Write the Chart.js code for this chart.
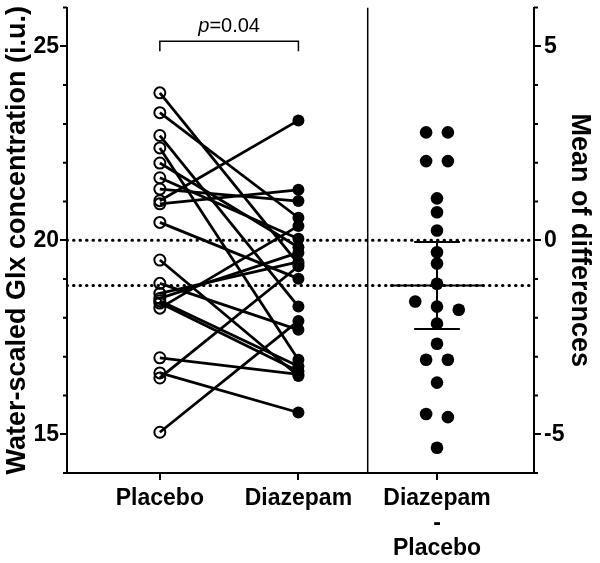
<!DOCTYPE html>
<html>
<head>
<meta charset="utf-8">
<script src="https://cdn.jsdelivr.net/npm/chart.js@4.4.0/dist/chart.umd.min.js"></script>
<style>
  body { margin: 0; background: #fff; }
  #wrap { width: 600px; height: 563px; }
</style>
</head>
<body>
<div id="wrap"><canvas id="glxChart" width="600" height="563"></canvas></div>
<script>
// groups on the x axis
var groupLabels = ['Placebo', 'Diazepam', ['Diazepam', '-', 'Placebo']];
var groupX = [1, 2, 3];

// water-scaled Glx per subject (i.u.), same order in both arrays
var placebo  = [23.80, 23.29, 22.70, 22.38, 21.99, 21.61, 21.32, 21.02, 20.94, 20.46, 19.49,
                18.89, 18.63, 18.50, 18.44, 18.38, 18.25, 16.97, 16.58, 16.45, 15.05];
var diazepam = [19.39, 20.58, 18.29, 16.92, 19.82, 20.04, 21.01, 23.09, 21.30, 19.01, 16.50,
                17.69, 19.44, 19.68, 16.75, 16.62, 20.37, 16.54, 15.56, 19.33, 17.92];

// right panel: diazepam - placebo
var differences = [2.78, 2.78, 2.04, 2.04, 1.08, 0.72, 0.25, -0.31, -0.60, -1.12, -1.58,
                   -1.71, -1.79, -2.15, -2.67, -3.08, -3.08, -3.67, -4.48, -4.56, -5.35];

var leftTicks = [15, 20, 25];
var rightTicks = [-5, 0, 5];
var pValue = '0.04';

var FONT = "'Liberation Sans', Arial, sans-serif";
var xMin = 0.33, xMax = 3.7;

// mean and 95% CI of the differences
var n = differences.length;
var meanDiff = differences.reduce(function (a, b) { return a + b; }, 0) / n;
var sd = Math.sqrt(differences.reduce(function (a, b) { return a + (b - meanDiff) * (b - meanDiff); }, 0) / (n - 1));
var ci = 2.086 * sd / Math.sqrt(n);

// simple swarm: near-equal values share a row and get spread sideways
var swarmStep = 0.157;
var diffPoints = [];
var row = [];
function flushRow() {
    row.forEach(function (v, i) {
        diffPoints.push({ x: groupX[2] + (i - (row.length - 1) / 2) * swarmStep, y: v });
    });
    row = [];
}
differences.slice().sort(function (a, b) { return b - a; }).forEach(function (v) {
    if (row.length && Math.abs(v - row[0]) > 0.25) flushRow();
    row.push(v);
});
flushRow();

function seg(data, axis, width, dash) {
    return {
        type: 'scatter', showLine: true, data: data, yAxisID: axis || 'y',
        borderColor: '#000', borderWidth: width || 2.5, pointRadius: 0,
        borderDash: dash || [], borderCapStyle: dash ? 'round' : 'butt', fill: false
    };
}

var datasets = [
    { data: placebo.map(function (v) { return { x: groupX[0], y: v }; }),
      pointRadius: 5.5, borderWidth: 2, borderColor: '#000', backgroundColor: 'rgba(0,0,0,0)' },
    { data: diazepam.map(function (v) { return { x: groupX[1], y: v }; }),
      pointRadius: 6, borderWidth: 0, backgroundColor: '#000' },
    { data: diffPoints, yAxisID: 'y2',
      pointRadius: 6.3, borderWidth: 0, backgroundColor: '#000' },
    // error bar + mean
    seg([{ x: groupX[2], y: meanDiff - ci }, { x: groupX[2], y: meanDiff + ci }], 'y2', 2),
    seg([{ x: groupX[2] - 0.165, y: meanDiff - ci }, { x: groupX[2] + 0.165, y: meanDiff - ci }], 'y2', 2),
    seg([{ x: groupX[2] - 0.165, y: meanDiff + ci }, { x: groupX[2] + 0.165, y: meanDiff + ci }], 'y2', 2),
    seg([{ x: groupX[2] - 0.34, y: meanDiff }, { x: groupX[2] + 0.34, y: meanDiff }], 'y2', 2),
    // dotted reference lines: zero and mean difference
    seg([{ x: xMin, y: 0 }, { x: xMax, y: 0 }], 'y2', 3, [0.5, 6]),
    seg([{ x: xMin, y: meanDiff }, { x: xMax, y: meanDiff }], 'y2', 3, [0.5, 6]),
    // divider between panels
    seg([{ x: 2.5, y: 14 }, { x: 2.5, y: 26 }], 'y', 1.5)
];
placebo.forEach(function (p, i) {
    datasets.push(seg([{ x: groupX[0], y: p }, { x: groupX[1], y: diazepam[i] }], 'y', 2.8));
});

var extras = {
    id: 'extras',
    afterDraw: function (chart) {
        var ctx = chart.ctx, y = chart.scales.y, y2 = chart.scales.y2, x = chart.scales.x;
        ctx.save();
        ctx.strokeStyle = '#000';
        ctx.lineWidth = 2;
        ctx.beginPath();
        for (var v = 14; v <= 26; v++) {
            if (v % 5 === 0) continue;
            var py = y.getPixelForValue(v);
            ctx.moveTo(y.right - 4, py); ctx.lineTo(y.right, py);
        }
        for (var w = -6; w <= 6; w++) {
            if (w % 5 === 0) continue;
            var py2 = y2.getPixelForValue(w);
            ctx.moveTo(y2.left, py2); ctx.lineTo(y2.left + 4, py2);
        }
        ctx.stroke();

        // p-value bracket
        var x1 = x.getPixelForValue(groupX[0]), x2 = x.getPixelForValue(groupX[1]);
        var top = y.getPixelForValue(25.13), end = y.getPixelForValue(24.87);
        ctx.lineWidth = 1.5;
        ctx.beginPath();
        ctx.moveTo(x1, end); ctx.lineTo(x1, top); ctx.lineTo(x2, top); ctx.lineTo(x2, end);
        ctx.stroke();

        ctx.fillStyle = '#000';
        ctx.textBaseline = 'alphabetic';
        ctx.textAlign = 'left';
        var italic = 'italic 20px ' + FONT, normal = '20px ' + FONT;
        ctx.font = italic; var wp = ctx.measureText('p').width;
        ctx.font = normal; var wr = ctx.measureText('=' + pValue).width;
        var sx = (x1 + x2) / 2 - (wp + wr) / 2, ty = y.getPixelForValue(25.36);
        ctx.font = italic; ctx.fillText('p', sx, ty);
        ctx.font = normal; ctx.fillText('=' + pValue, sx + wp, ty);
        ctx.restore();
    }
};

var tickFont = { family: FONT, size: 23, weight: 'bold', lineHeight: '25px' };
var titleFont = { family: FONT, size: 27, weight: 'bold', lineHeight: 1 };

function noPad(s) { s.paddingTop = 0; s.paddingBottom = 0; }

new Chart(document.getElementById('glxChart'), {
    type: 'scatter',
    data: { datasets: datasets },
    plugins: [extras],
    options: {
        responsive: false,
        animation: false,
        layout: { padding: { top: 6, left: 0, right: 0, bottom: 0 } },
        plugins: { legend: { display: false }, tooltip: { enabled: false } },
        scales: {
            x: {
                type: 'linear', min: xMin, max: xMax,
                afterFit: function (s) { s.height = 90; s.paddingLeft = 0; s.paddingRight = 0; },
                afterBuildTicks: function (s) { s.ticks = groupX.map(function (v) { return { value: v }; }); },
                ticks: {
                    color: '#000', font: tickFont, padding: 6, maxRotation: 0, autoSkip: false,
                    callback: function (v) { return groupLabels[groupX.indexOf(v)]; }
                },
                grid: { drawOnChartArea: false, color: '#000', lineWidth: 2, tickLength: 7 },
                border: { color: '#000', width: 2 }
            },
            y: {
                position: 'left', min: 14, max: 26,
                afterFit: function (s) { s.width = 67; noPad(s); },
                afterBuildTicks: function (s) { s.ticks = leftTicks.map(function (v) { return { value: v }; }); },
                ticks: { color: '#000', font: tickFont, padding: 1 },
                grid: { drawOnChartArea: false, color: '#000', lineWidth: 2, tickLength: 7 },
                border: { color: '#000', width: 2 },
                title: { display: true, text: 'Water-scaled Glx concentration (i.u.)', color: '#000',
                         font: titleFont, padding: { top: 4, bottom: 0 } }
            },
            y2: {
                position: 'right', min: -6, max: 6,
                afterFit: function (s) { s.width = 66; noPad(s); },
                afterBuildTicks: function (s) { s.ticks = rightTicks.map(function (v) { return { value: v }; }); },
                ticks: { color: '#000', font: tickFont, padding: 3 },
                grid: { drawOnChartArea: false, color: '#000', lineWidth: 2, tickLength: 7 },
                border: { color: '#000', width: 2 },
                title: { display: true, text: 'Mean of differences', color: '#000',
                         font: titleFont, padding: { top: 7, bottom: 0 } }
            }
        }
    }
});
</script>
</body>
</html>
